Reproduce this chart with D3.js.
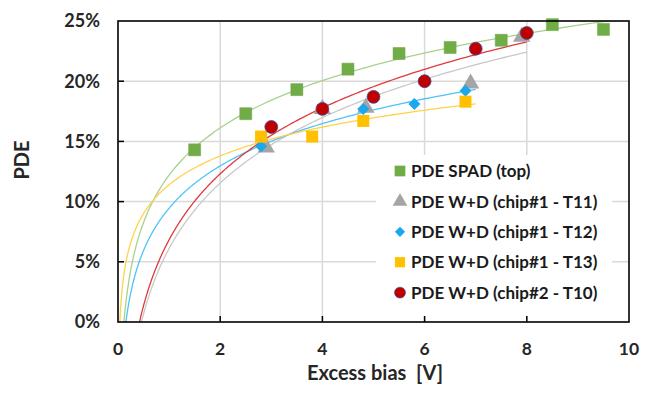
<!DOCTYPE html>
<html><head><meta charset="utf-8">
<script src="https://cdn.jsdelivr.net/npm/d3@7"></script>
<style>body{margin:0;background:#fff;} svg{display:block;}</style>
</head><body>
<svg id="c" width="650" height="395"></svg>
<script>
const seriesNames = ["PDE SPAD (top)","PDE W+D (chip#1 - T11)","PDE W+D (chip#1 - T12)","PDE W+D (chip#1 - T13)","PDE W+D (chip#2 - T10)"];
const spadX = [1.5,2.5,3.5,4.5,5.5,6.5,7.5,8.5,9.5];
const spadY = [14.3,17.3,19.3,21.0,22.3,22.8,23.4,24.7,24.3];
const t11X = [2.9,4.0,4.85,6.9,7.9];
const t11Y = [14.5,17.7,17.8,19.8,23.7];
const t12X = [2.8,4.8,5.8,6.8];
const t12Y = [14.6,17.7,18.1,19.2];
const t13X = [2.8,3.8,4.8,6.8];
const t13Y = [15.4,15.4,16.7,18.3];
const t10X = [3.0,4.0,5.0,6.0,7.0,8.0];
const t10Y = [16.2,17.7,18.7,20.0,22.7,24.0];
const trendEnd = [10,8,7,7,8];
const xTicks = [0,2,4,6,8,10];
const yTicks = [0,5,10,15,20,25];

const markerColors = ["#70AD47","#A5A5A5","#1AA7EC","#FFC000","#C00000"];
const lineColors = ["#A9D18E","#C9C9C9","#4FC3F7","#FFD24D","#E0393C"];
const shapes = [d3.symbolSquare,d3.symbolTriangle,d3.symbolSquare,d3.symbolSquare,d3.symbolCircle];
const rotations = [0,0,45,0,0];
const sizes = [144,130,72,144,130];

const xs=[spadX,t11X,t12X,t13X,t10X], ys=[spadY,t11Y,t12Y,t13Y,t10Y];
const series = seriesNames.map((n,i)=>({name:n, pts:xs[i].map((x,j)=>({x, y:ys[i][j]})), end:trendEnd[i], i}));

const svg=d3.select("#c");
const L=118,R=629,T=21,B=322;
const x=d3.scaleLinear().domain([0,10]).range([L,R]);
const y=d3.scaleLinear().domain([0,25]).range([B,T]);
const FONT="Lato, 'Open Sans', sans-serif";

// gridlines
svg.append("g").selectAll("line").data(xTicks.slice(1,-1)).join("line")
  .attr("x1",d=>x(d)).attr("x2",d=>x(d)).attr("y1",T).attr("y2",B)
  .attr("stroke","#D9D9D9").attr("stroke-width",1.5);
svg.append("g").selectAll("line").data(yTicks.slice(1,-1)).join("line")
  .attr("x1",L).attr("x2",R).attr("y1",d=>y(d)).attr("y2",d=>y(d))
  .attr("stroke","#D9D9D9").attr("stroke-width",1.5);

// clip
svg.append("clipPath").attr("id","clip").append("rect").attr("x",L).attr("y",T).attr("width",R-L).attr("height",B-T);

// log trendlines (least squares y = a ln x + b)
function fit(pts){
  const n=pts.length; let sx=0,sy=0,sxx=0,sxy=0;
  pts.forEach(p=>{const l=Math.log(p.x); sx+=l; sy+=p.y; sxx+=l*l; sxy+=l*p.y;});
  const a=(n*sxy-sx*sy)/(n*sxx-sx*sx); const b=(sy-a*sx)/n; return {a,b};
}
const line=d3.line().x(d=>x(d[0])).y(d=>y(d[1]));
const tg=svg.append("g").attr("clip-path","url(#clip)");
series.forEach(s=>{
  const {a,b}=fit(s.pts);
  const x0=Math.exp(-b/a);
  const samples=d3.range(0,201).map(k=>{const xv=x0*Math.pow(s.end/x0,k/200); return [xv,a*Math.log(xv)+b];});
  tg.append("path").attr("d",line(samples)).attr("fill","none")
    .attr("stroke",lineColors[s.i]).attr("stroke-width",1.3);
});

// legend background
svg.append("rect").attr("x",376).attr("y",155).attr("width",236).attr("height",161).attr("fill","#fff");

// markers
function drawMarker(g,i,sc){
  const sym=g.append("path").attr("d",d3.symbol().type(shapes[i]).size(sizes[i])())
    .attr("fill",markerColors[i]).attr("transform",`scale(${sc||1}) rotate(${rotations[i]})`);
  if(i===4) sym.attr("stroke","#3A4A9A").attr("stroke-width",0.8);
  if(i===0) sym.attr("stroke","#6AA544").attr("stroke-width",0.5);
  return sym;
}
series.forEach(s=>{
  s.pts.forEach(p=>{
    const g=svg.append("g").attr("transform",`translate(${x(p.x)},${y(p.y)})`);
    drawMarker(g,s.i);
  });
});

// frame
svg.append("rect").attr("x",L).attr("y",T).attr("width",R-L).attr("height",B-T)
  .attr("fill","none").attr("stroke","#000").attr("stroke-width",1.6);
// ticks (inward)
svg.append("g").selectAll("line").data(xTicks.slice(1,-1)).join("line")
  .attr("x1",d=>x(d)).attr("x2",d=>x(d)).attr("y1",B).attr("y2",B-6).attr("stroke","#000").attr("stroke-width",1.5);
svg.append("g").selectAll("line").data(yTicks.slice(1,-1)).join("line")
  .attr("x1",L).attr("x2",L+6).attr("y1",d=>y(d)).attr("y2",d=>y(d)).attr("stroke","#000").attr("stroke-width",1.5);

// tick labels
svg.append("g").selectAll("text").data(xTicks).join("text")
  .attr("x",d=>x(d)).attr("y",355).attr("text-anchor","middle")
  .attr("font-family",FONT).attr("font-weight","bold").attr("font-size",17.5).attr("fill","#262626")
  .text(d=>d);
svg.append("g").selectAll("text").data(yTicks).join("text")
  .attr("x",100).attr("y",d=>y(d)+6.3).attr("text-anchor","end")
  .attr("font-family",FONT).attr("font-weight","bold").attr("font-size",18).attr("fill","#262626")
  .text(d=>d+"%");

// axis titles
svg.append("text").attr("x",375).attr("y",380).attr("text-anchor","middle")
  .attr("font-family",FONT).attr("font-weight","bold").attr("font-size",20).attr("fill","#262626")
  .attr("xml:space","preserve").text("Excess bias  [V]");
svg.append("text").attr("transform","translate(29,160) rotate(-90)").attr("text-anchor","middle")
  .attr("font-family",FONT).attr("font-weight","bold").attr("font-size",20).attr("fill","#262626")
  .text("PDE");

// legend
const lg=svg.append("g");
series.forEach((s,k)=>{
  const cy=171+k*30.4;
  const g=lg.append("g").attr("transform",`translate(400,${cy})`);
  drawMarker(g,s.i,0.85);
  lg.append("text").attr("x",411).attr("y",cy+6.2).attr("font-family",FONT).attr("font-weight","bold")
    .attr("font-size",17).attr("fill","#1a1a1a").text(s.name);
});
</script>
</body></html>
